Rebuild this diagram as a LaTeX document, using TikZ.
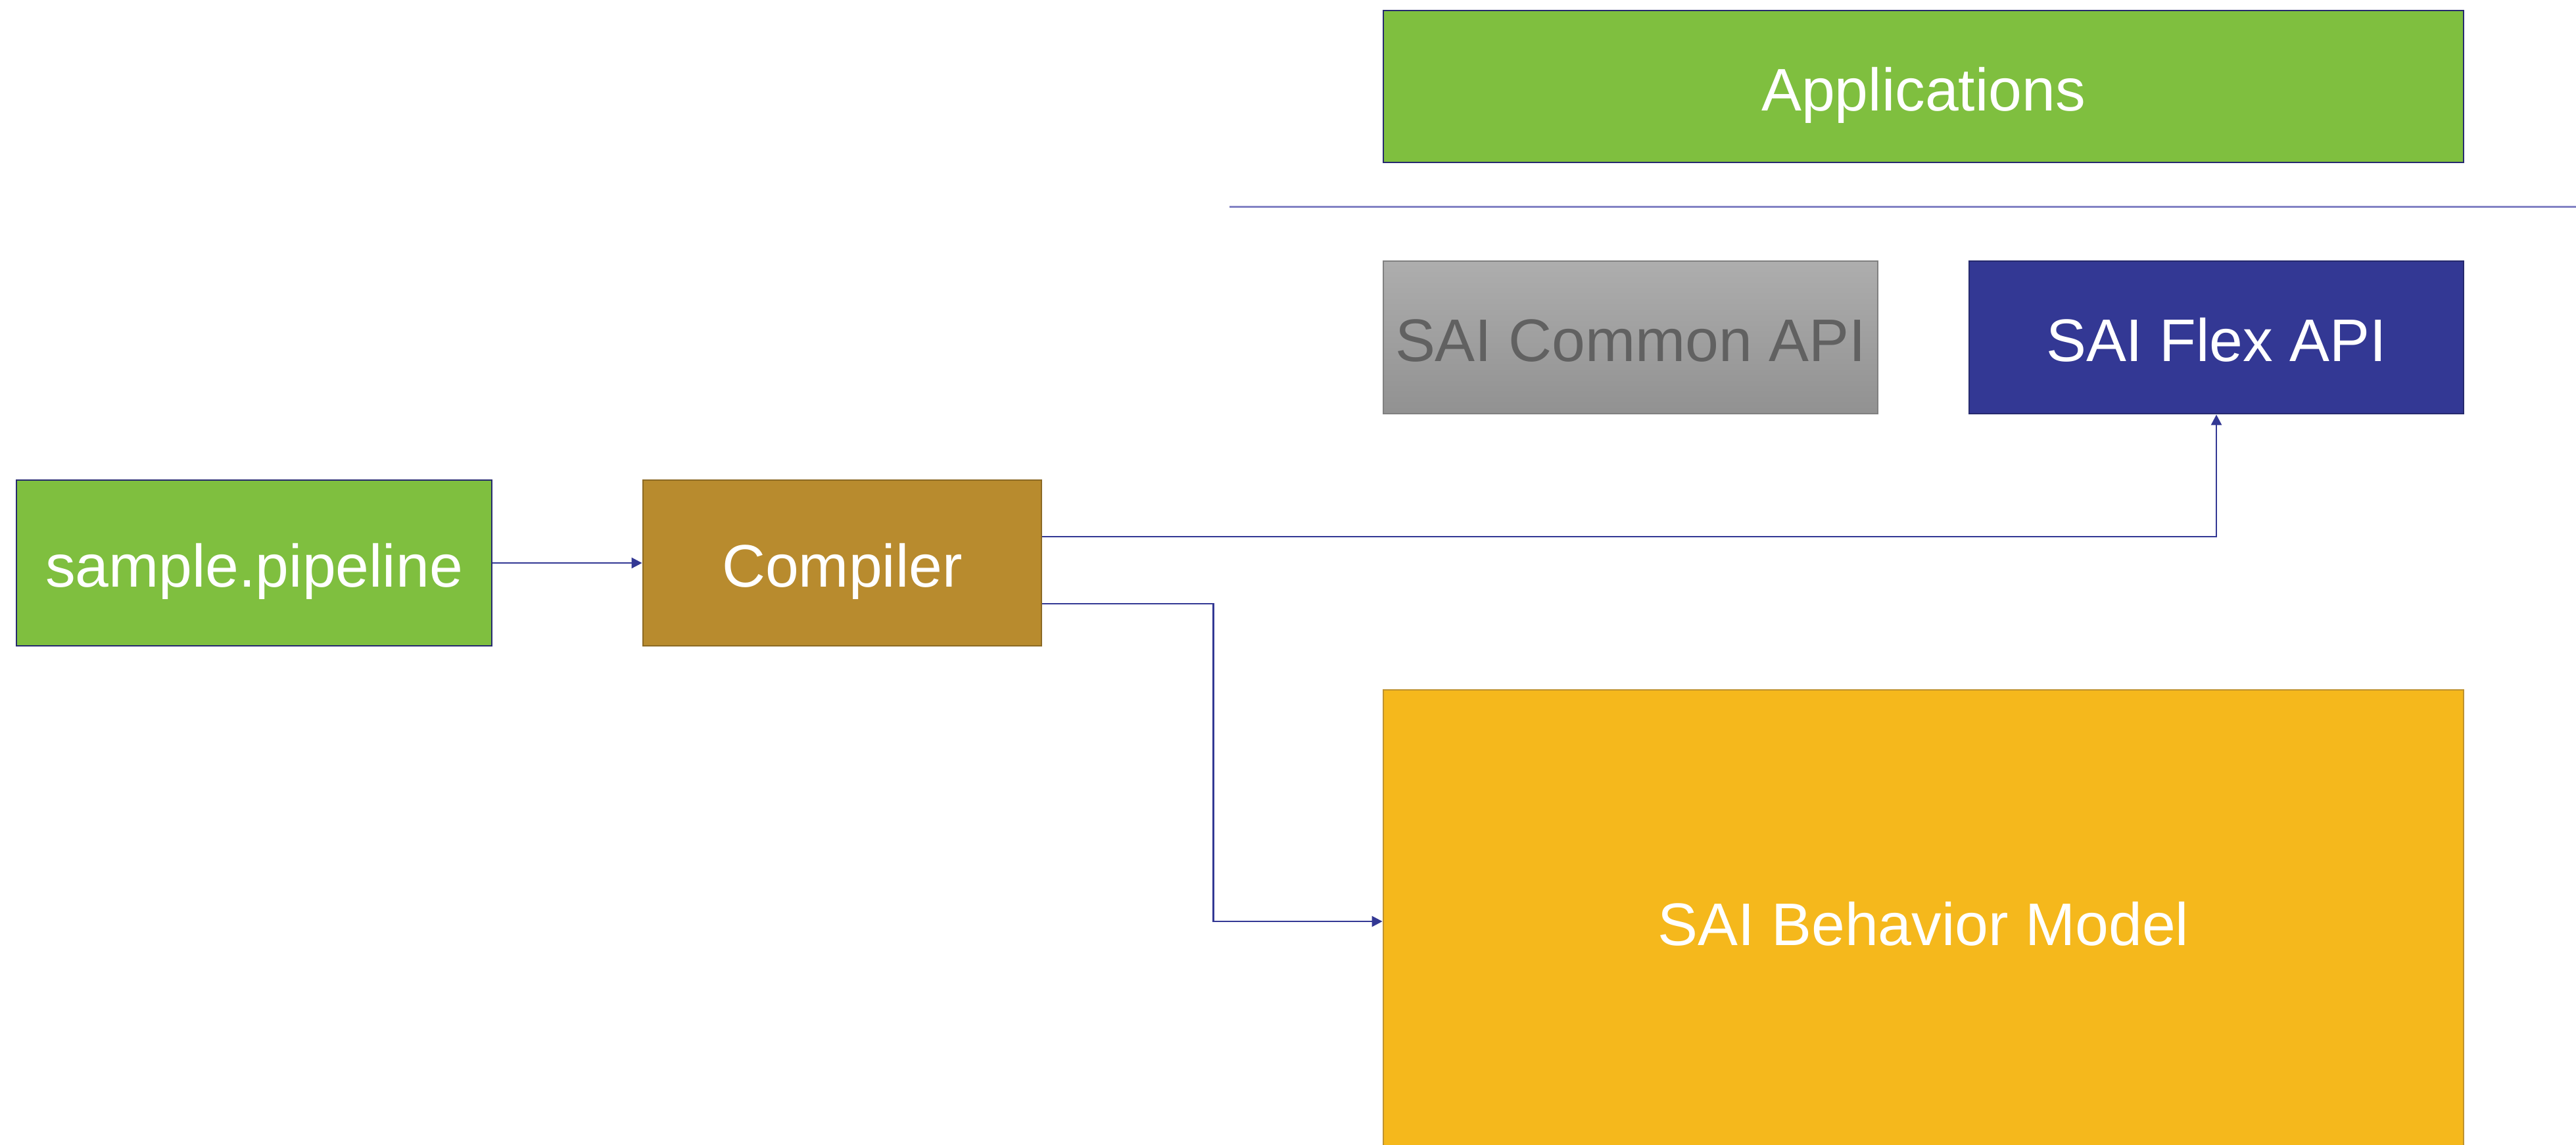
\documentclass[tikz,border=0pt]{standalone}
\usepackage{fontspec}
\setmainfont{Liberation Sans}
\usepackage{tikz}
\usetikzlibrary{arrows.meta,positioning,calc}

\definecolor{saigreen}{HTML}{7FBF3F}
\definecolor{sainavy}{HTML}{333894}
\definecolor{sainavydark}{HTML}{262A6E}
\definecolor{saibrown}{HTML}{B88B2E}
\definecolor{saibrowndark}{HTML}{8C6A24}
\definecolor{saiyellow}{HTML}{F5B81C}
\definecolor{saiyellowdark}{HTML}{BE9230}
\definecolor{sailine}{HTML}{8383C4}

\tikzset{
	block/.style={draw, line width=0.8pt, text=white, inner sep=0pt,
		text height=0.73cm, text depth=0cm,
		font=\fontsize{26}{30}\selectfont},
	link/.style={draw=sainavy, line width=0.8pt,
		-{Triangle[length=1.6mm,width=1.6mm]}},
}

\begin{document}
\begin{tikzpicture}

	\useasboundingbox (0,0) rectangle (39.18,-17.40);

	\node[block, fill=saigreen, draw=sainavydark,
		minimum width=16.43cm, minimum height=2.31cm] (apps) at (29.255,-1.315) {Applications};

	\draw [sailine, line width=0.8pt] (18.70,-3.145) -- (39.18,-3.145);

	\node[block, draw=gray, top color=black!32, bottom color=black!43, text=black!62,
		minimum width=7.52cm, minimum height=2.32cm] (common) at (24.80,-5.13) {SAI Common API};
	\node[block, fill=sainavy, draw=sainavydark,
		minimum width=7.52cm, minimum height=2.32cm] (flex) at (33.71,-5.13) {SAI Flex API};

	\node[block, fill=saigreen, draw=sainavydark,
		minimum width=7.23cm, minimum height=2.52cm] (pipe) at (3.865,-8.56) {sample.pipeline};
	\node[block, fill=saibrown, draw=saibrowndark,
		minimum width=6.06cm, minimum height=2.52cm] (comp) at (12.81,-8.56) {Compiler};

	\node[block, fill=saiyellow, draw=saiyellowdark,
		minimum width=16.43cm, minimum height=7.04cm] (behav) at (29.255,-14.01) {SAI Behavior Model};

	\draw[link] (pipe) -- (comp);
	\draw[link] ([yshift=4mm]comp.east) -| (flex.south);
	\draw[link] ([yshift=-6.2mm]comp.east) -- ++(2.6,0) |- (behav.west);

\end{tikzpicture}
\end{document}
